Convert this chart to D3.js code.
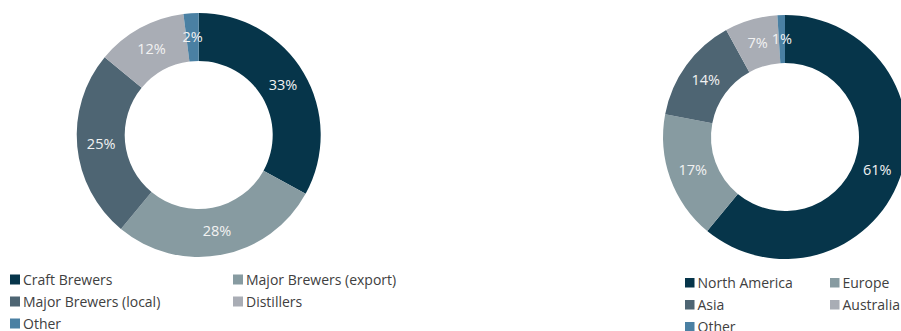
<!DOCTYPE html>
<html><head><meta charset="utf-8">
<script src="https://cdn.jsdelivr.net/npm/d3@7"></script>
<style>body{margin:0;background:#fff}svg{display:block}</style>
</head><body>
<svg id="c" width="901" height="331"></svg>
<script>
const leftCategories = ["Craft Brewers","Major Brewers (export)","Major Brewers (local)","Distillers","Other"];
const leftValues = [33,28,25,12,2];
const rightCategories = ["North America","Europe","Asia","Australia","Other"];
const rightValues = [61,17,14,7,1];
const colors = ["#06354a","#879ba1","#4e6573","#a9adb5","#4a80a3"];

const svg = d3.select("#c");
const color = d3.scaleOrdinal().domain(d3.range(5)).range(colors);

function donut(cx, cy, values, cats, legend) {
  const pie = d3.pie().sort(null).value(d => d)(values);
  const arc = d3.arc().innerRadius(74).outerRadius(122);
  const g = svg.append("g").attr("transform", `translate(${cx},${cy})`);
  g.selectAll("path").data(pie).enter().append("path")
    .attr("d", arc).attr("fill", (d,i) => color(i));
  g.selectAll("text").data(pie).enter().append("text")
    .attr("transform", d => `translate(${arc.centroid(d)})`)
    .attr("text-anchor","middle").attr("dy","0.36em")
    .attr("fill","#f2f2f2").style("font-family","'Open Sans', Lato, sans-serif")
    .style("font-size","14.5px")
    .text(d => d.data + "%");
  const lg = svg.append("g");
  const items = lg.selectAll("g").data(cats).enter().append("g")
    .attr("transform",(d,i)=>`translate(${legend.x + (i%2)*legend.colW},${legend.y + Math.floor(i/2)*22})`);
  items.append("rect").attr("x",0).attr("y",-10).attr("width",legend.sq).attr("height",legend.sq)
    .attr("fill",(d,i)=>color(i));
  items.append("text").attr("x",legend.sq+3).attr("y",0)
    .attr("fill","#404040").style("font-family","'Open Sans', Lato, sans-serif")
    .style("font-size","14px").text(d=>d);
}
donut(198.7,135,leftValues,leftCategories,{x:10,y:284.5,colW:223,sq:10});
donut(785,137,rightValues,rightCategories,{x:685,y:288,colW:145,sq:9.5});
</script>
</body></html>
